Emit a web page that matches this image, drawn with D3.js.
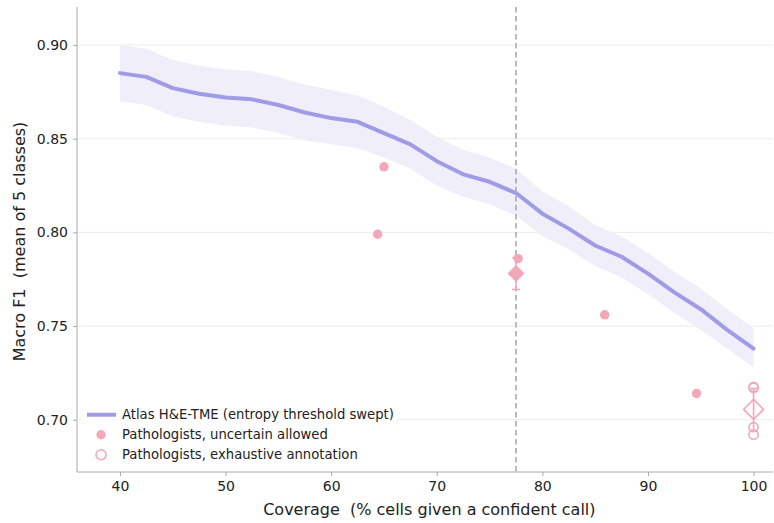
<!DOCTYPE html>
<html lang="en">
<head>
  <meta charset="UTF-8">
  <title>Coverage vs Macro F1</title>
  <script src="https://d3js.org/d3.v7.min.js"></script>
  <style>
    body { margin: 0; background: white; font-family: 'DejaVu Sans', sans-serif; }
    .axis text { font-size: 14px; fill: #222; font-family: 'DejaVu Sans', sans-serif; }
    .axis path, .axis line { stroke: #aaa; }
    .grid line { stroke: #ececec; }
    .legend text { font-size: 13.2px; fill: #222; }
    .label { font-size: 16px; fill: #222; white-space: pre; }
  </style>
</head>
<body>
  <div id="chart"></div>
  <script>
    // atlas curve (entropy threshold swept)
    const coverage = [40, 42.5, 45, 47.5, 50, 52.5, 55, 57.5, 60, 62.5, 65, 67.5, 70,
      72.5, 75, 77.5, 80, 82.5, 85, 87.5, 90, 92.5, 95, 97.5, 100];
    const macroF1 = [0.885, 0.883, 0.877, 0.874, 0.872, 0.871, 0.868, 0.864, 0.861, 0.859, 0.853, 0.847, 0.838,
      0.831, 0.827, 0.821, 0.810, 0.802, 0.793, 0.787, 0.778, 0.768, 0.759, 0.748, 0.738];
    const bandLow = [0.870, 0.868, 0.862, 0.859, 0.857, 0.856, 0.853, 0.849, 0.847, 0.845, 0.840, 0.834, 0.825,
      0.819, 0.815, 0.809, 0.798, 0.791, 0.782, 0.776, 0.767, 0.757, 0.748, 0.738, 0.728];
    const bandHigh = [0.900, 0.898, 0.892, 0.889, 0.887, 0.886, 0.883, 0.879, 0.876, 0.873, 0.867, 0.860, 0.851,
      0.844, 0.840, 0.834, 0.822, 0.814, 0.804, 0.798, 0.789, 0.779, 0.770, 0.759, 0.749];

    // pathologists, uncertain allowed
    const uncCoverage = [64.4, 65.0, 77.7, 85.9, 94.6];
    const uncF1 = [0.799, 0.835, 0.786, 0.756, 0.714];
    const uncMean = { x: 77.5, y: 0.778, err: 0.0085 };

    // pathologists, exhaustive annotation
    const exhCoverage = [100, 100, 100, 100];
    const exhF1 = [0.7175, 0.717, 0.696, 0.692];
    const exhMean = { x: 100, y: 0.7055, err: 0.0112 };

    const refCoverage = 77.5;

    const yTicks = [0.70, 0.75, 0.80, 0.85, 0.90];
    const xTicks = [40, 50, 60, 70, 80, 90, 100];
    const legendLabels = ["Atlas H&E-TME (entropy threshold swept)", "Pathologists, uncertain allowed", "Pathologists, exhaustive annotation"];

    const W = 774, H = 523;
    const margin = { top: 7, right: 1, bottom: 51, left: 77 };
    const width = W - margin.left - margin.right;
    const height = H - margin.top - margin.bottom;

    const lineColor = "#9f9be6";
    const bandColor = "#efeef9";
    const pink = "#f4a7b9";

    const svg = d3.select("#chart").append("svg")
      .attr("width", W).attr("height", H)
      .append("g")
      .attr("transform", `translate(${margin.left},${margin.top})`);

    const x = d3.scaleLinear().domain([35.93, 101.84]).range([0, width]);
    const y = d3.scaleLinear().domain([0.6721, 0.9203]).range([height, 0]);

    // grid
    svg.append("g").attr("class", "grid")
      .selectAll("line").data(yTicks).join("line")
      .attr("x1", 0).attr("x2", width)
      .attr("y1", d => y(d)).attr("y2", d => y(d));

    const curve = coverage.map((c, i) => ({ x: c, y: macroF1[i], lo: bandLow[i], hi: bandHigh[i] }));

    svg.append("path").datum(curve)
      .attr("fill", bandColor)
      .attr("d", d3.area().x(d => x(d.x)).y0(d => y(d.lo)).y1(d => y(d.hi)));

    svg.append("path").datum(curve)
      .attr("fill", "none")
      .attr("stroke", lineColor)
      .attr("stroke-width", 4)
      .attr("stroke-linejoin", "round")
      .attr("stroke-linecap", "round")
      .attr("d", d3.line().x(d => x(d.x)).y(d => y(d.y)));

    // reference coverage
    svg.append("line")
      .attr("x1", x(refCoverage)).attr("x2", x(refCoverage))
      .attr("y1", 0).attr("y2", height)
      .attr("stroke", "#aaa").attr("stroke-width", 1.6)
      .attr("stroke-dasharray", "5.5,3.5");

    // uncertain-allowed points
    svg.selectAll(".unc").data(uncCoverage.map((c, i) => ({ x: c, y: uncF1[i] })))
      .join("circle")
      .attr("cx", d => x(d.x)).attr("cy", d => y(d.y)).attr("r", 4.7)
      .attr("fill", pink);

    // exhaustive points
    svg.selectAll(".exh").data(exhCoverage.map((c, i) => ({ x: c, y: exhF1[i] })))
      .join("circle")
      .attr("cx", d => x(d.x)).attr("cy", d => y(d.y)).attr("r", 4.6)
      .attr("fill", "none").attr("stroke", pink).attr("stroke-width", 1.6);

    function errorBar(m) {
      const cx = x(m.x);
      const g = svg.append("g").attr("stroke", pink).attr("stroke-width", 1.6);
      g.append("line").attr("x1", cx).attr("x2", cx).attr("y1", y(m.y - m.err)).attr("y2", y(m.y + m.err));
      [m.y - m.err, m.y + m.err].forEach(v => {
        g.append("line").attr("x1", cx - 4).attr("x2", cx + 4).attr("y1", y(v)).attr("y2", y(v));
      });
    }
    function diamond(cx, cy, r) {
      return `M${cx},${cy - r}L${cx + r},${cy}L${cx},${cy + r}L${cx - r},${cy}Z`;
    }

    errorBar(uncMean);
    svg.append("path")
      .attr("d", diamond(x(uncMean.x), y(uncMean.y), 8.5))
      .attr("fill", pink);

    errorBar(exhMean);
    svg.append("path")
      .attr("d", diamond(x(exhMean.x), y(exhMean.y), 10))
      .attr("fill", "none").attr("stroke", pink).attr("stroke-width", 1.6);

    // axes
    const xAxis = svg.append("g").attr("class", "axis")
      .attr("transform", `translate(0,${height})`)
      .call(d3.axisBottom(x).tickValues(xTicks).tickSize(4).tickPadding(5).tickFormat(d3.format("d")));
    const yAxis = svg.append("g").attr("class", "axis")
      .call(d3.axisLeft(y).tickValues(yTicks).tickSize(4).tickPadding(5).tickFormat(d3.format(".2f")));
    xAxis.select(".domain").attr("d", `M0,0H${width}`);
    yAxis.select(".domain").attr("d", `M0,${height}V0`);

    svg.append("text").attr("class", "label")
      .attr("x", x(69.3)).attr("y", height + 43)
      .attr("text-anchor", "middle")
      .text("Coverage  (% cells given a confident call)");

    svg.append("text").attr("class", "label")
      .attr("transform", `translate(${-52},${height / 2 + 2}) rotate(-90)`)
      .attr("text-anchor", "middle")
      .text("Macro F1  (mean of 5 classes)");

    // legend
    const legend = svg.append("g").attr("class", "legend")
      .attr("transform", `translate(4, ${y(0.70) - 12})`);
    legend.append("rect")
      .attr("x", 0).attr("y", -4).attr("width", 316).attr("height", 64)
      .attr("fill", "white");
    legend.append("line")
      .attr("x1", 6).attr("x2", 35).attr("y1", 7).attr("y2", 7)
      .attr("stroke", lineColor).attr("stroke-width", 4);
    legend.append("circle").attr("cx", 20).attr("cy", 27).attr("r", 4.7).attr("fill", pink);
    legend.append("circle").attr("cx", 20).attr("cy", 47).attr("r", 5)
      .attr("fill", "none").attr("stroke", pink).attr("stroke-width", 1.6);
    legendLabels.forEach((t, i) => {
      legend.append("text").attr("x", 41).attr("y", 7 + i * 20).attr("dy", "0.35em").text(t);
    });
  </script>
</body>
</html>
